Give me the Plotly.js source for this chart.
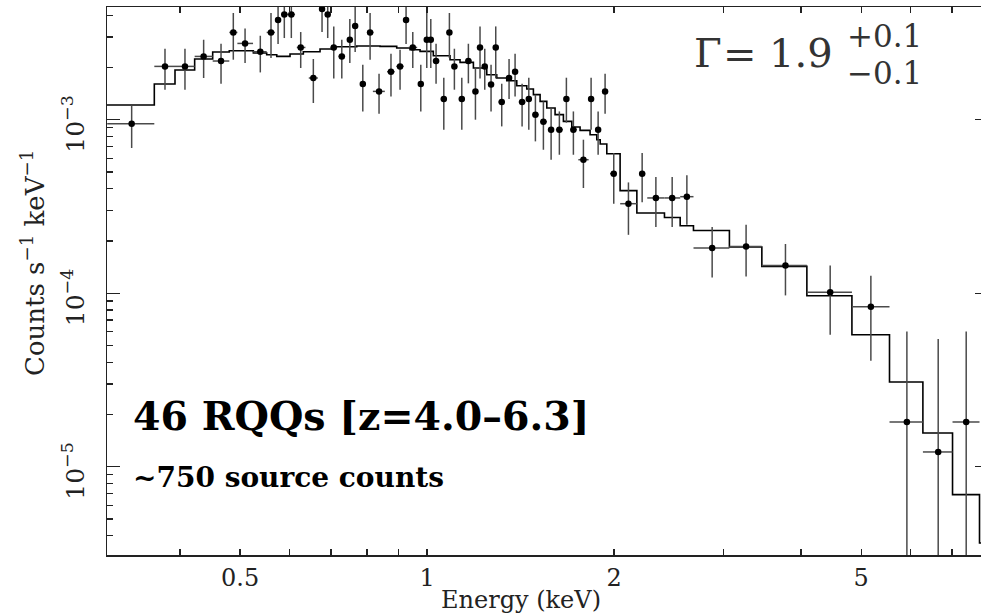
<!DOCTYPE html>
<html>
<head>
<meta charset="utf-8">
<script src="https://cdn.plot.ly/plotly-3.0.1.min.js"></script>
<style>
html,body{margin:0;padding:0;overflow:hidden;background:#fff;}
#chart{width:989px;height:616px;}
</style>
</head>
<body>
<div id="chart"></div>
<script>
// ---- Observed stacked spectrum (data points) ----
const energy = [0.3345,0.3785,0.4076,0.4368,0.4659,0.4876,0.5093,0.5389,0.5607,0.5756,
  0.5891,0.6046,0.6260,0.6560,0.6775,0.6919,0.7076,0.7290,0.7510,0.7660,
  0.7880,0.8096,0.8369,0.8748,0.9047,0.9251,0.9484,0.9770,0.9989,1.0139,
  1.0339,1.0640,1.0863,1.1066,1.1374,1.1655,1.1964,1.2169,1.2384,1.2677,
  1.2899,1.3189,1.3552,1.3858,1.4223,1.4581,1.4942,1.5392,1.5838,1.6331,
  1.6761,1.7202,1.7853,1.8369,1.8854,1.9347,1.9978,2.1096,2.2196,2.3355,
  2.4809,2.6199,2.8774,3.2630,3.7757,4.4566,5.1822,5.9226,6.6514,7.3790];
const energyLo = [0.3055,0.3638,0.3928,0.4225,0.4517,0.4804,0.4950,0.5246,0.5518,0.569,
  0.582,0.597,0.617,0.645,0.670,0.685,0.699,0.720,0.743,0.760,
  0.780,0.800,0.818,0.862,0.892,0.917,0.934,0.968,0.992,1.007,
  1.022,1.052,1.078,1.097,1.125,1.152,1.185,1.209,1.228,1.256,
  1.281,1.303,1.345,1.374,1.405,1.445,1.478,1.520,1.565,1.612,
  1.662,1.700,1.752,1.822,1.865,1.918,1.970,2.046,2.195,2.262,
  2.411,2.556,2.685,3.067,3.459,4.088,4.831,5.553,6.285,7.014];
const energyHi = [0.3638,0.3928,0.4225,0.4517,0.4804,0.4950,0.5246,0.5518,0.5690,0.582,
  0.597,0.613,0.637,0.667,0.685,0.699,0.717,0.738,0.759,0.773,
  0.797,0.820,0.855,0.887,0.917,0.934,0.964,0.987,1.006,1.021,
  1.046,1.076,1.095,1.118,1.150,1.180,1.208,1.226,1.250,1.280,
  1.298,1.335,1.366,1.398,1.440,1.472,1.512,1.560,1.600,1.655,
  1.690,1.742,1.820,1.852,1.905,1.952,2.020,2.177,2.245,2.411,
  2.556,2.685,3.067,3.459,4.088,4.831,5.553,6.285,7.014,7.752];
const rate = [9.48e-4,2.029e-3,2.029e-3,2.316e-3,2.179e-3,3.184e-3,2.752e-3,2.465e-3,3.184e-3,3.755e-3,
  4.045e-3,4.045e-3,2.609e-3,1.739e-3,4.345e-3,4.045e-3,2.609e-3,2.316e-3,2.890e-3,3.467e-3,
  1.606e-3,3.184e-3,1.456e-3,1.891e-3,2.029e-3,3.755e-3,2.609e-3,1.606e-3,2.890e-3,2.890e-3,
  2.179e-3,1.316e-3,3.184e-3,2.029e-3,1.316e-3,2.179e-3,1.456e-3,2.609e-3,2.029e-3,1.597e-3,
  2.609e-3,1.265e-3,1.739e-3,1.891e-3,1.265e-3,1.316e-3,1.069e-3,9.74e-4,8.76e-4,8.76e-4,
  1.316e-3,8.76e-4,5.88e-4,1.316e-3,8.76e-4,1.456e-3,4.885e-4,3.28e-4,4.885e-4,3.54e-4,
  3.54e-4,3.60e-4,1.822e-4,1.861e-4,1.446e-4,1.011e-4,8.36e-5,1.81e-5,1.216e-5,1.81e-5];
const rateHi = [1.204e-3,2.565e-3,2.565e-3,2.890e-3,2.740e-3,4.121e-3,3.358e-3,3.047e-3,4.121e-3,4.9e-3,
  5.2e-3,5.2e-3,3.201e-3,2.238e-3,5.6e-3,5.2e-3,3.449e-3,2.890e-3,3.805e-3,4.464e-3,
  2.075e-3,4.121e-3,1.841e-3,2.400e-3,2.531e-3,4.9e-3,3.201e-3,2.075e-3,4.48e-3,3.805e-3,
  2.740e-3,1.746e-3,4.121e-3,2.565e-3,1.746e-3,2.740e-3,1.994e-3,3.449e-3,2.565e-3,2.075e-3,
  3.449e-3,1.612e-3,2.238e-3,2.400e-3,1.612e-3,1.746e-3,1.394e-3,1.275e-3,1.157e-3,1.116e-3,
  1.746e-3,1.116e-3,7.67e-4,1.746e-3,1.116e-3,1.841e-3,6.43e-4,4.35e-4,6.43e-4,4.67e-4,
  4.67e-4,4.78e-4,2.41e-4,2.48e-4,1.921e-4,1.446e-4,1.262e-4,6.02e-5,5.44e-5,6.02e-5];
const rateLo = [6.87e-4,1.489e-3,1.489e-3,1.739e-3,1.612e-3,2.217e-3,2.122e-3,1.873e-3,2.268e-3,2.729e-3,
  2.956e-3,2.956e-3,1.986e-3,1.248e-3,3.201e-3,2.956e-3,1.730e-3,1.730e-3,2.122e-3,2.455e-3,
  1.116e-3,2.217e-3,1.083e-3,1.362e-3,1.489e-3,2.729e-3,1.986e-3,1.116e-3,1.986e-3,1.986e-3,
  1.612e-3,8.76e-4,2.268e-3,1.489e-3,8.76e-4,1.62e-3,1.0e-3,1.730e-3,1.489e-3,1.116e-3,
  1.730e-3,9.15e-4,1.316e-3,1.362e-3,9.15e-4,8.76e-4,7.50e-4,6.71e-4,5.88e-4,6.28e-4,
  9.61e-4,6.28e-4,4.04e-4,8.76e-4,6.28e-4,1.083e-3,3.28e-4,2.17e-4,3.34e-4,2.41e-4,
  2.41e-4,2.48e-4,1.233e-4,1.249e-4,9.71e-5,5.76e-5,4.08e-5,0,0,0];

// ---- Folded power-law model (bin start energies and model rates) ----
const modelEnergy = [0.3000,0.3638,0.3928,0.4225,0.4517,0.4804,0.5000,0.5252,0.5518,0.5728,
  0.6017,0.6321,0.6725,0.7066,0.7705,0.8401,0.8936,0.9389,0.9743,1.0235,
  1.0889,1.1300,1.1874,1.2477,1.2948,1.3437,1.3945,1.4471,1.4832,1.5205,
  1.5587,1.6073,1.6577,1.7100,1.7633,1.8300,1.8760,1.9000,1.9470,2.0455,
  2.1765,2.4111,2.5556,2.6847,3.0674,3.4594,4.0877,4.8306,5.5527,6.2845,
  7.0144,7.7520,8.5];
const modelRate = [1.215e-3,1.606e-3,1.934e-3,2.238e-3,2.455e-3,2.498e-3,2.498e-3,2.423e-3,2.369e-3,2.316e-3,
  2.392e-3,2.465e-3,2.555e-3,2.633e-3,2.658e-3,2.646e-3,2.589e-3,2.531e-3,2.475e-3,2.338e-3,
  2.217e-3,2.139e-3,1.986e-3,1.815e-3,1.739e-3,1.678e-3,1.570e-3,1.503e-3,1.394e-3,1.275e-3,
  1.168e-3,1.069e-3,9.78e-4,9.08e-4,8.68e-4,8.19e-4,7.67e-4,7.25e-4,6.37e-4,3.90e-4,
  2.90e-4,2.73e-4,2.45e-4,2.30e-4,1.846e-4,1.427e-4,9.67e-5,5.76e-5,3.08e-5,1.564e-5,
  6.90e-6,3.63e-6,3.63e-6];

// ---- Tick labels ----
const xTickVals = [0.5, 1, 2, 5];
const xTickText = ['0.5', '1', '2', '5'];
const xMinorVals = [0.4, 0.6, 0.7, 0.8, 0.9, 3, 4, 6, 7, 8];
const xMajorVals = [1];
const yTickVals = [1e-5, 1e-4, 1e-3];
const yTickText = ['10<sup>−5</sup>', '10<sup>−4</sup>', '10<sup>−3</sup>'];
const yDecades = [1e-6, 1e-5, 1e-4, 1e-3];
const yMinorVals = [];
yDecades.forEach(d => { for (let m = 2; m <= 9; m++) yMinorVals.push(m * d); });

const serif = 'DejaVu Serif';
const ink = '#222';

const traces = [
  {
    x: modelEnergy, y: modelRate, mode: 'lines', type: 'scatter',
    line: {shape: 'hv', color: '#000', width: 1.6},
    hoverinfo: 'skip', showlegend: false
  },
  {
    x: energy, y: rate, mode: 'markers', type: 'scatter',
    marker: {color: '#000', size: 6.5},
    error_x: {
      type: 'data', symmetric: false,
      array: energy.map((e, i) => energyHi[i] - e),
      arrayminus: energy.map((e, i) => e - energyLo[i]),
      color: '#4a4a4a', thickness: 1.5, width: 0
    },
    error_y: {
      type: 'data', symmetric: false,
      array: rate.map((r, i) => rateHi[i] - r),
      arrayminus: rate.map((r, i) => r - rateLo[i]),
      color: '#4a4a4a', thickness: 1.5, width: 0
    },
    showlegend: false
  }
];

const W = 881, H = 548, L = 107, T = 7;
const px = v => (v - L) / W;
const py = v => (T + H - v) / H;

const layout = {
  width: 989, height: 616,
  margin: {l: 107, r: 1, t: 7, b: 61},
  paper_bgcolor: '#fff', plot_bgcolor: '#fff',
  showlegend: false,
  xaxis: {
    type: 'log', range: [-0.5153, 0.90309],
    tickmode: 'array', tickvals: xTickVals, ticktext: xTickText,
    ticks: 'inside', ticklen: 6, tickwidth: 1.3, tickcolor: ink,
    showline: true, linecolor: ink, linewidth: 1.5, mirror: 'ticks',
    showgrid: false, zeroline: false, automargin: false,
    tickfont: {family: serif, size: 24, color: ink},
    ticklabelstandoff: 1,
    minor: {tickmode: 'array', tickvals: xMinorVals, ticks: 'inside', ticklen: 6, tickwidth: 1.3, tickcolor: ink, showgrid: false}
  },
  xaxis2: {
    type: 'log', range: [-0.5153, 0.90309], overlaying: 'x', anchor: 'y', side: 'bottom',
    tickmode: 'array', tickvals: xMajorVals, ticks: 'inside', ticklen: 11, tickwidth: 1.3, tickcolor: ink,
    showticklabels: false, showline: false, showgrid: false, zeroline: false, mirror: 'ticks'
  },
  yaxis: {
    type: 'log', range: [-5.509, -2.3504],
    tickmode: 'array', tickvals: yTickVals, ticktext: yTickText, tickangle: -90,
    ticks: 'inside', ticklen: 13, tickwidth: 1.3, tickcolor: ink,
    showline: true, linecolor: ink, linewidth: 1.5, mirror: 'ticks',
    showgrid: false, zeroline: false, automargin: false,
    tickfont: {family: serif, size: 25, color: ink},
    ticklabelstandoff: 12, ticklabelshift: 8,
    minor: {tickmode: 'array', tickvals: yMinorVals, ticks: 'inside', ticklen: 6, tickwidth: 1.3, tickcolor: ink, showgrid: false}
  },
  annotations: [
    {xref: 'paper', yref: 'paper', x: px(521), y: py(616), xanchor: 'center', yanchor: 'bottom', showarrow: false,
     text: 'Energy (keV)', font: {family: serif, size: 24, color: ink}},
    {xref: 'paper', yref: 'paper', x: px(33), y: py(263), xanchor: 'center', yanchor: 'middle', showarrow: false,
     textangle: -90, text: 'Counts s<sup>−1</sup> keV<sup>−1</sup>', font: {family: serif, size: 26, color: ink}},
    {xref: 'paper', yref: 'paper', x: px(131), y: py(416), xanchor: 'left', yanchor: 'middle', showarrow: false,
     text: '<b>46 RQQs [z=4.0–6.3]</b>', font: {family: serif, size: 39.5, color: '#000'}},
    {xref: 'paper', yref: 'paper', x: px(131), y: py(477), xanchor: 'left', yanchor: 'middle', showarrow: false,
     text: '<b>~750 source counts</b>', font: {family: serif, size: 28, color: '#000'}},
    {xref: 'paper', yref: 'paper', x: px(708), y: py(53), xanchor: 'center', yanchor: 'middle', showarrow: false,
     text: 'Γ', font: {family: serif, size: 40, color: '#333'}},
    {xref: 'paper', yref: 'paper', x: px(740), y: py(54), xanchor: 'center', yanchor: 'middle', showarrow: false,
     text: '=', font: {family: serif, size: 40, color: '#333'}},
    {xref: 'paper', yref: 'paper', x: px(801), y: py(53), xanchor: 'center', yanchor: 'middle', showarrow: false,
     text: '1.9', font: {family: serif, size: 40, color: '#333'}},
    {xref: 'paper', yref: 'paper', x: px(884), y: py(36), xanchor: 'center', yanchor: 'middle', showarrow: false,
     text: '+0.1', font: {family: serif, size: 31, color: '#333'}},
    {xref: 'paper', yref: 'paper', x: px(884), y: py(73), xanchor: 'center', yanchor: 'middle', showarrow: false,
     text: '−0.1', font: {family: serif, size: 31, color: '#333'}}
  ]
};

Plotly.newPlot('chart', traces, layout, {displayModeBar: false, staticPlot: true});
</script>
</body>
</html>
